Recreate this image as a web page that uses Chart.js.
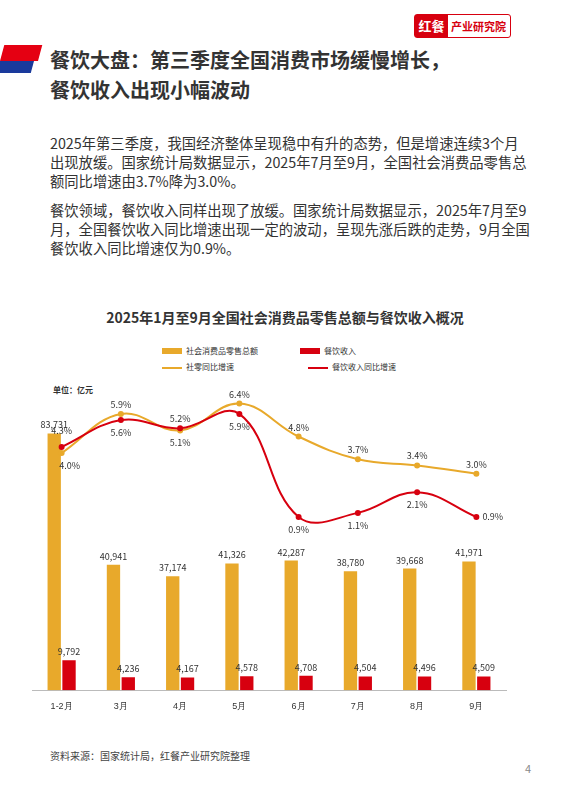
<!DOCTYPE html>
<html><head><meta charset="utf-8">
<script src="https://cdn.jsdelivr.net/npm/chart.js@4"></script>
<style>
body{margin:0;width:570px;height:806px;background:#fff;font-family:"Noto Sans CJK SC","Noto Sans",sans-serif;position:relative;overflow:hidden;color:#333}
.abs{position:absolute}
p{margin:0}
</style></head><body>
<div class="abs" style="left:414px;top:14px;width:95px;height:22px;border:1px solid #d7000f;border-radius:3px;display:flex;font-size:11px;font-weight:bold">
<div style="background:#d7000f;color:#fff;width:33px;text-align:center;line-height:22px;font-size:13px">红餐</div>
<div style="color:#d7000f;line-height:22px;padding-left:3px">产业研究院</div></div>
<div class="abs" style="left:0;top:45px;width:38px;height:16px;background:#e50012;transform:skewX(-15deg);transform-origin:0 100%"></div>
<div class="abs" style="left:0;top:61px;width:34px;height:12px;background:#1a3a9c;transform:skewX(-15deg);transform-origin:0 0"></div>
<div class="abs" style="left:50px;top:45px;font-size:20px;font-weight:bold;color:#333;line-height:30px">餐饮大盘：第三季度全国消费市场缓慢增长，<br>餐饮收入出现小幅波动</div>
<div class="abs" style="left:50px;top:133px;width:482px;font-size:14.3px;line-height:19px;color:#333">
<p>2025年第三季度，我国经济整体呈现稳中有升的态势，但是增速连续3个月出现放缓。国家统计局数据显示，2025年7月至9月，全国社会消费品零售总额同比增速由3.7%降为3.0%。</p>
<p style="margin-top:10px">餐饮领域，餐饮收入同样出现了放缓。国家统计局数据显示，2025年7月至9月，全国餐饮收入同比增速出现一定的波动，呈现先涨后跌的走势，9月全国餐饮收入同比增速仅为0.9%。</p></div>
<div class="abs" style="left:0;width:570px;top:307px;text-align:center;font-size:14px;font-weight:bold;color:#333">2025年1月至9月全国社会消费品零售总额与餐饮收入概况</div>
<div class="abs" style="left:162px;top:343px;font-size:8px;color:#333;line-height:16px">
<div><span style="display:inline-block;width:20px;height:6px;background:#E8A92B;margin-right:4px"></span>社会消费品零售总额<span style="display:inline-block;width:20px;height:6px;background:#D7000F;margin:0 4px 0 42px"></span>餐饮收入</div>
<div><span style="display:inline-block;width:20px;height:2px;background:#E8A92B;margin-right:4px;vertical-align:middle"></span>社零同比增速<span style="display:inline-block;width:20px;height:2px;background:#D7000F;margin:0 4px 0 74px;vertical-align:middle"></span>餐饮收入同比增速</div></div>
<div class="abs" style="left:53px;top:384px;font-size:8px;font-weight:bold">单位：亿元</div>
<div class="abs" style="left:20px;top:340px;width:500px;height:375px"><canvas id="c"></canvas></div>
<div class="abs" style="left:50px;top:748px;font-size:10px;color:#444">资料来源：国家统计局，红餐产业研究院整理</div>
<div class="abs" style="left:525px;top:760px;font-size:11px;color:#888">4</div>
<script>
const categories=["1-2月","3月","4月","5月","6月","7月","8月","9月"];
const retailTotal=[83731,40941,37174,41326,42287,38780,39668,41971];
const cateringRevenue=[9792,4236,4167,4578,4708,4504,4496,4509];
const retailGrowth=[4.0,5.9,5.1,6.4,4.8,3.7,3.4,3.0];
const cateringGrowth=[4.3,5.6,5.2,5.9,0.9,1.1,2.1,0.9];
const Y="#E8A92B",R="#D7000F";
const fmt=v=>v.toLocaleString('en-US');
const labels={id:'labels',afterDatasetsDraw(ch){
 const c=ch.ctx;c.save();c.font='9px "Noto Sans CJK SC",sans-serif';c.fillStyle='#333';c.textAlign='center';
 [0,1].forEach(d=>{ch.getDatasetMeta(d).data.forEach((b,i)=>{c.textBaseline='bottom';c.fillText(fmt(ch.data.datasets[d].data[i]),b.x,b.y-4);});});
 [2,3].forEach(d=>{const o=d==2?3:2;ch.getDatasetMeta(d).data.forEach((p,i)=>{
  const v=ch.data.datasets[d].data[i],w=ch.data.datasets[o].data[i];
  const up=v>w;const t=v.toFixed(1)+'%';
  if(d==3&&i==7){c.textAlign='left';c.textBaseline='middle';c.fillText(t,p.x+6,p.y);c.textAlign='center';return;}
  if(up){c.textBaseline='bottom';c.fillText(t,p.x,p.y-(i==0?12:5));}else{c.textBaseline='top';c.fillText(t,p.x+(i==0?8:0),p.y+8);}
 });});c.restore();}};
new Chart(document.getElementById('c'),{data:{labels:categories,datasets:[
 {type:'bar',data:retailTotal,backgroundColor:Y,yAxisID:'y',categoryPercentage:0.5,barPercentage:0.9,order:3},
 {type:'bar',data:cateringRevenue,backgroundColor:R,yAxisID:'y',categoryPercentage:0.5,barPercentage:0.9,order:3},
 {type:'line',data:retailGrowth,borderColor:Y,backgroundColor:Y,borderWidth:2,pointRadius:2,tension:0.4,yAxisID:'y2',order:2},
 {type:'line',data:cateringGrowth,borderColor:R,backgroundColor:R,borderWidth:2,pointRadius:2,tension:0.4,yAxisID:'y2',order:1}]},
 options:{responsive:true,maintainAspectRatio:false,animation:false,
 layout:{padding:{left:12,right:14,top:10,bottom:0}},
 plugins:{legend:{display:false},tooltip:{enabled:false}},
 scales:{x:{grid:{display:false},border:{color:'#bbb'},ticks:{color:'#333',font:{size:9}}},
 y:{display:false,min:0,max:111000},
 y2:{display:false,min:-7.5,max:9}}},plugins:[labels]});
</script></body></html>
